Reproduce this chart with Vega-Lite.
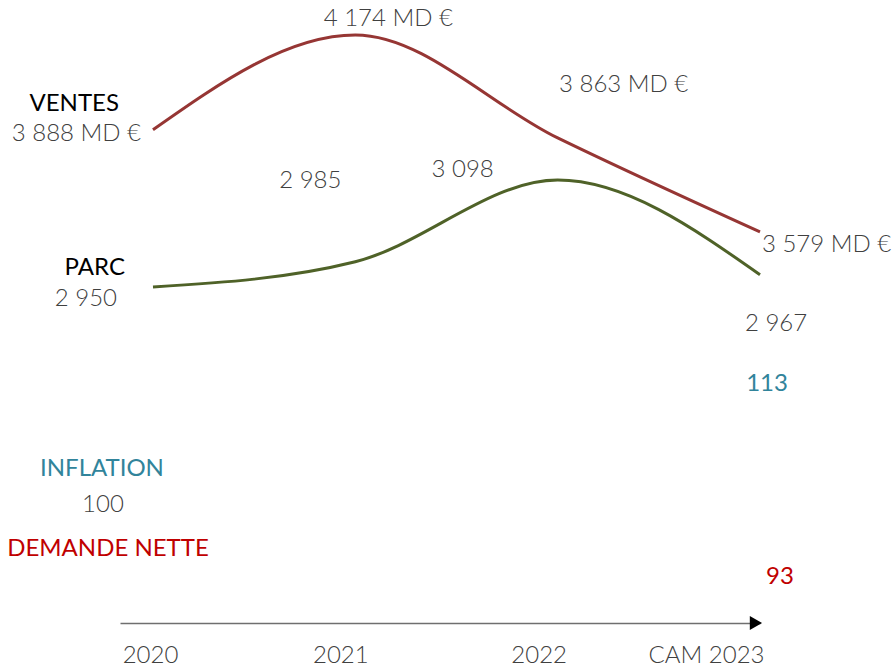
{
  "$schema": "https://vega.github.io/schema/vega-lite/v6.json",
  "width": 640,
  "height": 623,
  "autosize": {"type": "none"},
  "padding": {"left": 120, "top": 0, "right": 135, "bottom": 44},
  "background": "white",
  "config": {
    "view": {"stroke": null},
    "font": "Lato",
    "locale": {"number": {"decimal": ",", "thousands": " ", "grouping": [3], "currency": ["", " MD €"]}},
    "text": {"font": "Lato", "fontSize": 24, "fontWeight": 300, "color": "#404040", "baseline": "middle"}
  },
  "data": {
    "values": [
      {"serie": "VENTES", "annee": 2020, "valeur": 3888},
      {"serie": "VENTES", "annee": 2021, "valeur": 4174},
      {"serie": "VENTES", "annee": 2022, "valeur": 3863},
      {"serie": "VENTES", "annee": 2023, "valeur": 3579},
      {"serie": "PARC", "annee": 2020, "valeur": 2950},
      {"serie": "PARC", "annee": 2021, "valeur": 2985},
      {"serie": "PARC", "annee": 2022, "valeur": 3098},
      {"serie": "PARC", "annee": 2023, "valeur": 2967},
      {"serie": "INFLATION", "annee": 2020, "valeur": 100},
      {"serie": "INFLATION", "annee": 2023, "valeur": 113},
      {"serie": "DEMANDE NETTE", "annee": 2023, "valeur": 93}
    ]
  },
  "encoding": {
    "x": {
      "field": "annee",
      "type": "quantitative",
      "scale": {"domain": [2019.837, 2023], "nice": false, "zero": false},
      "axis": {
        "title": null,
        "values": [2020, 2021, 2022, 2023],
        "format": "d",
        "labelExpr": "datum.value == 2023 ? 'CAM 2023' : datum.label",
        "domain": true,
        "domainColor": "#6f6f6f",
        "domainWidth": 1.5,
        "ticks": false,
        "grid": false,
        "labelFont": "Lato",
        "labelFontSize": 24,
        "labelFontWeight": 300,
        "labelColor": "#404040",
        "labelPadding": 20,
        "labelFlush": false,
        "labelOverlap": false,
        "labelAlign": {"condition": {"test": "datum.value == 2023", "value": "right"}, "value": "center"},
        "labelOffset": {"condition": [
          {"test": "datum.value == 2021", "value": -15},
          {"test": "datum.value == 2022", "value": -19},
          {"test": "datum.value == 2023", "value": 4}
        ], "value": -3}
      }
    }
  },
  "layer": [
    {
      "transform": [{"filter": "datum.serie == 'VENTES'"}],
      "encoding": {"y": {"field": "valeur", "type": "quantitative", "scale": {"domain": [2398, 4279.7], "nice": false, "zero": false}, "axis": null}},
      "layer": [
        {"mark": {"type": "line", "interpolate": "monotone", "color": "#963634", "strokeWidth": 3}},
        {"transform": [{"filter": "datum.annee == 2020"}], "mark": {"type": "text", "align": "right", "dx": -12, "dy": 4}, "encoding": {"text": {"field": "valeur", "type": "quantitative", "format": "$,.0f"}}},
        {"transform": [{"filter": "datum.annee == 2020"}], "mark": {"type": "text", "align": "right", "dx": -34, "dy": -26, "color": "#000000", "fontWeight": 400}, "encoding": {"text": {"value": "VENTES"}}},
        {"transform": [{"filter": "datum.annee == 2021"}], "mark": {"type": "text", "align": "center", "dx": 33, "dy": -16}, "encoding": {"text": {"field": "valeur", "type": "quantitative", "format": "$,.0f"}}},
        {"transform": [{"filter": "datum.annee == 2022"}], "mark": {"type": "text", "align": "center", "dx": 66, "dy": -53}, "encoding": {"text": {"field": "valeur", "type": "quantitative", "format": "$,.0f"}}},
        {"transform": [{"filter": "datum.annee == 2023"}], "mark": {"type": "text", "align": "left", "dx": 2, "dy": 13}, "encoding": {"text": {"field": "valeur", "type": "quantitative", "format": "$,.0f"}}}
      ]
    },
    {
      "transform": [{"filter": "datum.serie == 'PARC'"}],
      "encoding": {"y": {"field": "valeur", "type": "quantitative", "scale": {"domain": [2485.3, 3347], "nice": false, "zero": false}, "axis": null}},
      "layer": [
        {"mark": {"type": "line", "interpolate": "monotone", "color": "#4F6228", "strokeWidth": 3}},
        {"transform": [{"filter": "datum.annee == 2020"}], "mark": {"type": "text", "align": "right", "dx": -36, "dy": 12}, "encoding": {"text": {"field": "valeur", "type": "quantitative", "format": ",.0f"}}},
        {"transform": [{"filter": "datum.annee == 2020"}], "mark": {"type": "text", "align": "right", "dx": -28, "dy": -19, "color": "#000000", "fontWeight": 400}, "encoding": {"text": {"value": "PARC"}}},
        {"transform": [{"filter": "datum.annee == 2021"}], "mark": {"type": "text", "align": "center", "dx": -45, "dy": -81}, "encoding": {"text": {"field": "valeur", "type": "quantitative", "format": ",.0f"}}},
        {"transform": [{"filter": "datum.annee == 2022"}], "mark": {"type": "text", "align": "center", "dx": -95, "dy": -10}, "encoding": {"text": {"field": "valeur", "type": "quantitative", "format": ",.0f"}}},
        {"transform": [{"filter": "datum.annee == 2023"}], "mark": {"type": "text", "align": "left", "dx": -15, "dy": 49}, "encoding": {"text": {"field": "valeur", "type": "quantitative", "format": ",.0f"}}}
      ]
    },
    {
      "transform": [{"filter": "datum.serie == 'INFLATION' || datum.serie == 'DEMANDE NETTE'"}],
      "encoding": {"y": {"field": "valeur", "type": "quantitative", "scale": {"domain": [87.32, 154.256], "nice": false, "zero": false}, "axis": null}},
      "layer": [
        {"transform": [{"filter": "datum.serie == 'INFLATION' && datum.annee == 2020"}], "mark": {"type": "text", "align": "center", "dx": -50, "dy": 0}, "encoding": {"text": {"field": "valeur", "type": "quantitative", "format": "d"}}},
        {"transform": [{"filter": "datum.serie == 'INFLATION' && datum.annee == 2020"}], "mark": {"type": "text", "align": "center", "dx": -51, "dy": -36, "color": "#31849B", "fontWeight": 400}, "encoding": {"text": {"value": "INFLATION"}}},
        {"transform": [{"filter": "datum.serie == 'INFLATION' && datum.annee == 2020"}], "mark": {"type": "text", "align": "center", "dx": -45, "dy": 44, "color": "#C00000", "fontWeight": 400}, "encoding": {"text": {"value": "DEMANDE NETTE"}}},
        {"transform": [{"filter": "datum.serie == 'INFLATION' && datum.annee == 2023"}], "mark": {"type": "text", "align": "center", "dx": 7, "dy": 0, "color": "#31849B", "fontWeight": 400, "fontSize": 24}, "encoding": {"text": {"field": "valeur", "type": "quantitative", "format": "d"}}},
        {"transform": [{"filter": "datum.serie == 'DEMANDE NETTE'"}], "mark": {"type": "text", "align": "center", "dx": 20, "dy": 7, "color": "#C00000", "fontWeight": 400, "fontSize": 24}, "encoding": {"text": {"field": "valeur", "type": "quantitative", "format": "d"}}},
        {"transform": [{"filter": "datum.serie == 'DEMANDE NETTE'"}], "mark": {"type": "point", "shape": "triangle-right", "filled": true, "color": "#000000", "opacity": 1, "size": 200}, "encoding": {"x": {"datum": 2022.98}, "y": {"datum": 87.32}}}
      ]
    }
  ],
  "resolve": {"scale": {"y": "independent"}}
}
